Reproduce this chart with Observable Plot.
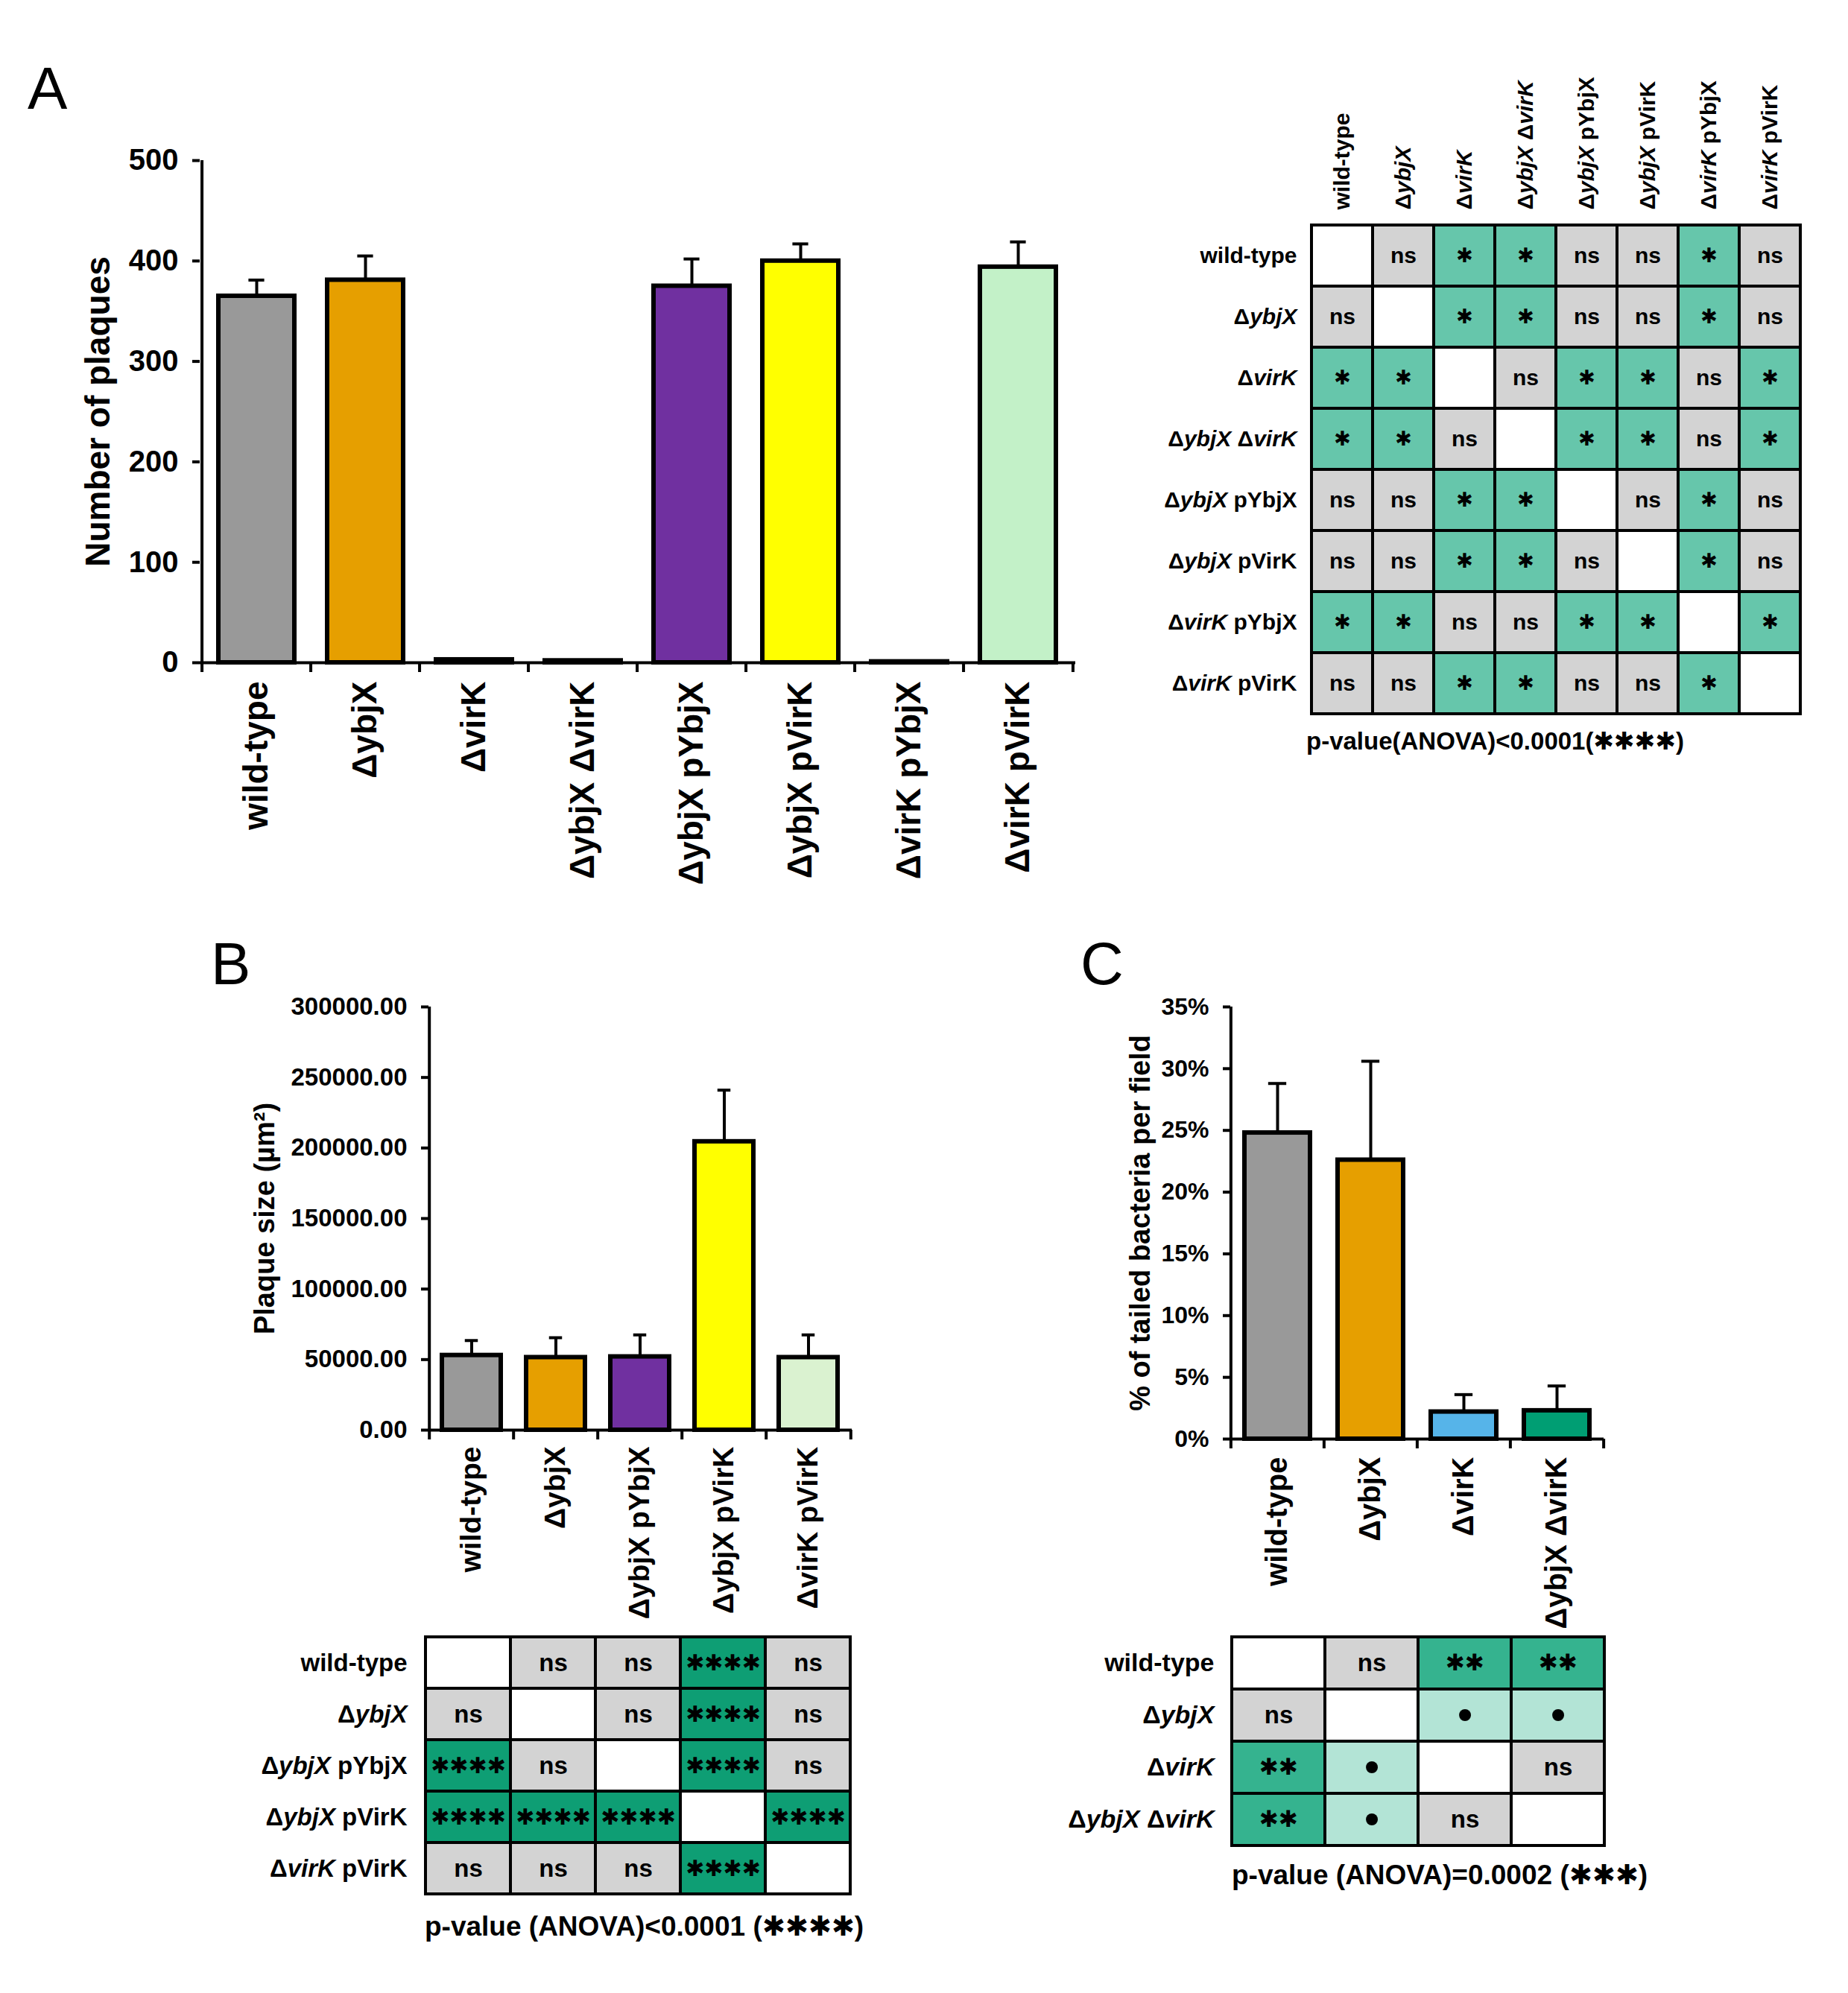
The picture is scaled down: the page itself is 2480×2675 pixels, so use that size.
<!DOCTYPE html>
<html><head><meta charset="utf-8">
<script src="https://cdn.jsdelivr.net/npm/d3@7"></script>
<script src="https://cdn.jsdelivr.net/npm/@observablehq/plot@0.6"></script>
<style>
body{margin:0;background:#fff;}
#page{position:relative;width:2480px;height:2675px;background:#fff;overflow:hidden;}
.holder{position:absolute;}
.holder svg{display:block;max-width:none;overflow:visible;}
.panel{position:absolute;font-family:"Liberation Sans",Arial,sans-serif;font-size:80px;line-height:1;color:#000;}
.cap{position:absolute;font-family:"Liberation Sans",Arial,sans-serif;font-weight:bold;line-height:1;white-space:nowrap;color:#000;}
.star{font-family:"DejaVu Sans",sans-serif;}
</style></head><body><div id="page"></div>
<script>
// ---------- DATA ----------
// Panel A: number of plaques
const catsA = ["wild-type","ΔybjX","ΔvirK","ΔybjX ΔvirK","ΔybjX pYbjX","ΔybjX pVirK","ΔvirK pYbjX","ΔvirK pVirK"];
const plaquesA = [365, 381, 3, 2, 375, 400, 1, 394];
const plaquesErrA = [16, 24, 1, 0, 27, 17, 0, 25];
// Panel A: pairwise significance (row vs column)
const sigA = [
  ["",  "ns","*", "*", "ns","ns","*", "ns"],
  ["ns","",  "*", "*", "ns","ns","*", "ns"],
  ["*", "*", "",  "ns","*", "*", "ns","*" ],
  ["*", "*", "ns","",  "*", "*", "ns","*" ],
  ["ns","ns","*", "*", "",  "ns","*", "ns"],
  ["ns","ns","*", "*", "ns","",  "*", "ns"],
  ["*", "*", "ns","ns","*", "*", "",  "*" ],
  ["ns","ns","*", "*", "ns","ns","*", ""  ]
];
const captionA = "p-value(ANOVA)<0.0001(";
const captionStarsA = "****";

// Panel B: plaque size
const catsB = ["wild-type","ΔybjX","ΔybjX pYbjX","ΔybjX pVirK","ΔvirK pVirK"];
const sizeB = [53000, 51500, 52000, 204500, 51500];
const sizeErrB = [10500, 14000, 15500, 36500, 16000];
const sigB = [
  ["",    "ns",  "ns",  "****","ns"  ],
  ["ns",  "",    "ns",  "****","ns"  ],
  ["****","ns",  "",    "****","ns"  ],
  ["****","****","****","",    "****"],
  ["ns",  "ns",  "ns",  "****",""    ]
];
const captionB = "p-value (ANOVA)<0.0001 (";
const captionStarsB = "****";

// Panel C: % tailed bacteria
const catsC = ["wild-type","ΔybjX","ΔvirK","ΔybjX ΔvirK"];
const tailedC = [24.8, 22.6, 2.2, 2.3];
const tailedErrC = [4.0, 8.0, 1.4, 2.0];
const sigC = [
  ["",  "ns","**","**"],
  ["ns","",  "•", "•" ],
  ["**","•", "",  "ns"],
  ["**","•", "ns",""  ]
];
const captionC = "p-value (ANOVA)=0.0002 (";
const captionStarsC = "***";

// ---------- STYLES ----------
const FONT = '"Liberation Sans", Arial, sans-serif';
const paletteA = ["#999999","#E69F00","#56B4E9","#009E73","#7030A0","#FFFF00","#CC79A7","#C3F1C8"];
const paletteB = ["#999999","#E69F00","#7030A0","#FFFF00","#DAF2D0"];
const paletteC = ["#999999","#E69F00","#56B4E9","#009E73"];
const sigFillA = {"ns":"#D3D3D3","*":"#66C6AB"};
const sigFillB = {"ns":"#D3D3D3","****":"#0E9E74"};
const sigFillC = {"ns":"#D3D3D3","**":"#35B38F","•":"#B3E4D6"};

const page = document.getElementById("page");
function place(el, left, top){
  const h = document.createElement("div");
  h.className = "holder"; h.style.left = left+"px"; h.style.top = top+"px";
  h.appendChild(el); page.appendChild(h); return h;
}
function addDiv(cls, html, left, top, size){
  const d = document.createElement("div");
  d.className = cls; d.innerHTML = html;
  d.style.left = left+"px"; d.style.top = top+"px";
  if (size) d.style.fontSize = size+"px";
  page.appendChild(d);
}
function italicize(svg){
  svg.querySelectorAll('g[aria-label="x-axis tick label"] text, g[aria-label="y-axis tick label"] text').forEach(t=>{
    const s = t.textContent;
    t.innerHTML = s.replace(/(ybjX|virK)/g, '<tspan font-style="italic">$1</tspan>');
  });
}

function barChart(o){
  const {cats, vals, errs, colors, domain, ticks, fmt, box, frame, tickFont, xFont, titleFont, title, titleX, cap, xPad} = o;
  const mL = frame.x0 - box.left, mR = box.left + box.width - frame.x1;
  const mT = frame.yTop - box.top, mB = box.top + box.height - frame.yBottom;
  const data = cats.map((c,i)=>({cat:c, v:vals[i], e:errs[i], color:colors[i]}));
  const n = cats.length, step = (frame.x1 - frame.x0)/n, bw = step*0.7, ins = (bw - cap)/2;
  const chart = Plot.plot({
    width: box.width, height: box.height,
    marginLeft: mL, marginRight: mR, marginTop: mT, marginBottom: mB,
    style: {background:"transparent", fontFamily: FONT, fontWeight:"bold", color:"#000", overflow:"visible"},
    x: {domain: cats, paddingInner: 0.3, paddingOuter: 0.15, axis: null},
    y: {domain, axis: null},
    color: {type: "identity"},
    marks: [
      Plot.barY(data, {x:"cat", y:"v", fill:"color", stroke:"#000", strokeWidth:6}),
      Plot.ruleX(data, {x:"cat", y1:"v", y2:d=>d.v+d.e, stroke:"#000", strokeWidth:4}),
      Plot.tickY(data, {x:"cat", y:d=>d.v+d.e, stroke:"#000", strokeWidth:4, insetLeft:ins, insetRight:ins}),
      Plot.ruleY([domain[0]], {stroke:"#000", strokeWidth:4}),
      Plot.ruleX([cats[0]], {x:d=>d, dx:-step/2, y1:domain[0], y2:domain[1], stroke:"#000", strokeWidth:4}),
      Plot.ruleX(cats, {x:d=>d, dx:-step/2, y1:domain[0], y2:domain[0], insetBottom:-13, stroke:"#000", strokeWidth:4}),
      Plot.ruleX([cats[n-1]], {x:d=>d, dx:step/2, y1:domain[0], y2:domain[0], insetBottom:-13, stroke:"#000", strokeWidth:4}),
      Plot.axisY({ticks, tickFormat: fmt, tickSize:10, tickPadding:19, fontSize:tickFont, fontWeight:"bold", stroke:"#000", strokeWidth:4, label:null}),
      Plot.axisX({tickSize:0, tickRotate:-90, tickPadding:xPad, fontSize:xFont, fontWeight:"bold", label:null}),
      Plot.text([title], {frameAnchor:"left", textAnchor:"middle", rotate:-90, dx: titleX - frame.x0, fontSize:titleFont, fontWeight:"bold", fill:"#000"})
    ]
  });
  place(chart, box.left, box.top);
}

function matrix(o){
  const {rows, sig, fills, box, frame, labelFont, cellFont, starFont, bulletFont, topLabels, xPad, yPad} = o;
  const mL = frame.x0 - box.left, mR = box.left + box.width - frame.x1;
  const mT = frame.yTop - box.top, mB = box.top + box.height - frame.yBottom;
  const data = rows.flatMap((r,i)=>rows.map((c,j)=>({row:r, col:c, s:sig[i][j]})));
  const isStar = s => s.includes("*");
  const marks = [
    Plot.cell(data, {x:"col", y:"row", fill:d=>d.s===""?"#FFFFFF":fills[d.s], stroke:"#000", strokeWidth:4, inset:0}),
    Plot.text(data.filter(d=>d.s==="ns"), {x:"col", y:"row", text:"s", fontSize:cellFont, fontWeight:"bold", fill:"#000"}),
    Plot.text(data.filter(d=>d.s==="•"), {x:"col", y:"row", text:"s", fontSize:bulletFont || cellFont, fontWeight:"bold", fill:"#000"}),
    Plot.text(data.filter(d=>isStar(d.s)), {x:"col", y:"row", text:d=>"✱".repeat(d.s.length), fontSize:starFont, fontFamily:"DejaVu Sans", fontWeight:"bold", fill:"#000"}),
    Plot.axisY({tickSize:0, tickPadding:yPad, fontSize:labelFont, fontWeight:"bold", label:null})
  ];
  if (topLabels) marks.push(Plot.axisX({anchor:"top", tickSize:0, tickRotate:-90, tickPadding:xPad, fontSize:labelFont, fontWeight:"bold", label:null}));
  const chart = Plot.plot({
    width: box.width, height: box.height,
    marginLeft: mL, marginRight: mR, marginTop: mT, marginBottom: mB,
    style: {background:"transparent", fontFamily: FONT, fontWeight:"bold", color:"#000", overflow:"visible"},
    x: {domain: rows, padding: 0, axis: null},
    y: {domain: rows, padding: 0, axis: null},
    color: {type: "identity"},
    marks
  });
  italicize(chart);
  place(chart, box.left, box.top);
}

// ---------- PANEL A ----------
barChart({
  cats: catsA, vals: plaquesA, errs: plaquesErrA, colors: paletteA,
  domain: [0, 500], ticks: [0,100,200,300,400,500], fmt: d=>String(d),
  box: {left:0, top:0, width:1480, height:1200},
  frame: {x0:268, x1:1443, yTop:215, yBottom:889},
  tickFont: 40, xFont: 46, titleFont: 46, title: "Number of plaques", titleX: 132, cap: 22, xPad: 25
});
matrix({
  rows: catsA, sig: sigA, fills: sigFillA,
  box: {left:1500, top:0, width:980, height:1000},
  frame: {x0:1757, x1:2418, yTop:300, yBottom:960},
  labelFont: 30, cellFont: 30, starFont: 27, topLabels: true, xPad: 19, yPad: 17
});

// ---------- PANEL B ----------
barChart({
  cats: catsB, vals: sizeB, errs: sizeErrB, colors: paletteB,
  domain: [0, 300000], ticks: [0,50000,100000,150000,200000,250000,300000], fmt: d=>d.toFixed(2),
  box: {left:280, top:1300, width:900, height:900},
  frame: {x0:575, x1:1143, yTop:1351, yBottom:1919},
  tickFont: 33, xFont: 39, titleFont: 38, title: "Plaque size (µm²)", titleX: 355, cap: 18, xPad: 22
});
matrix({
  rows: catsB, sig: sigB, fills: sigFillB,
  box: {left:280, top:2150, width:900, height:400},
  frame: {x0:571, x1:1141, yTop:2195, yBottom:2543},
  labelFont: 33, cellFont: 33, starFont: 30, topLabels: false, xPad: 0, yPad: 25
});

// ---------- PANEL C ----------
barChart({
  cats: catsC, vals: tailedC, errs: tailedErrC, colors: paletteC,
  domain: [0, 35], ticks: [0,5,10,15,20,25,30,35], fmt: d=>d+"%",
  box: {left:1440, top:1300, width:760, height:900},
  frame: {x0:1651, x1:2152, yTop:1351, yBottom:1931},
  tickFont: 32, xFont: 40, titleFont: 38, title: "% of tailed bacteria per field", titleX: 1530, cap: 24, xPad: 24
});
matrix({
  rows: catsC, sig: sigC, fills: sigFillC,
  box: {left:1440, top:2150, width:760, height:400},
  frame: {x0:1653, x1:2153, yTop:2197, yBottom:2477},
  labelFont: 34, cellFont: 33, starFont: 31, bulletFont: 56, topLabels: false, xPad: 0, yPad: 24
});

// ---------- panel letters & captions ----------
addDiv("panel", "A", 37, 79);
addDiv("panel", "B", 283, 1254);
addDiv("panel", "C", 1450, 1254);
const starSpan = s => '<span class="star">' + "✱".repeat(s.length) + '</span>)';
addDiv("cap", captionA + starSpan(captionStarsA), 1753, 978, 33);
addDiv("cap", captionB + starSpan(captionStarsB), 570, 2567, 37);
addDiv("cap", captionC + starSpan(captionStarsC), 1653, 2498, 37);
</script></body></html>
